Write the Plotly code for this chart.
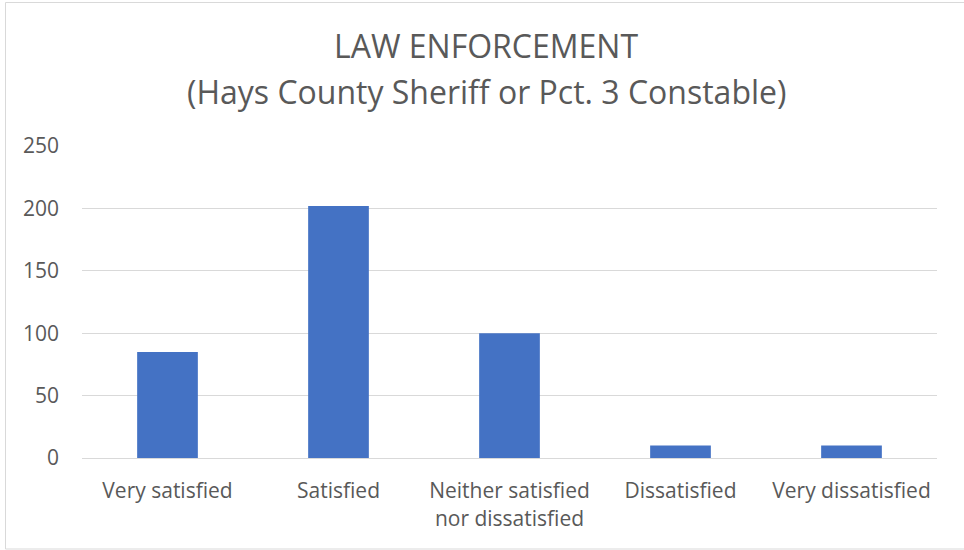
import plotly.graph_objects as go

categories = ["Very satisfied", "Satisfied", "Neither satisfied<br>nor dissatisfied", "Dissatisfied", "Very dissatisfied"]
counts = [85, 202, 100, 10, 10]
y_ticks = [0, 50, 100, 150, 200, 250]
title_lines = ["LAW ENFORCEMENT", "(Hays County Sheriff or Pct. 3 Constable)"]

W, H = 964, 550
L, R, T, B = 82, 27, 146, 92
pw, ph = W - L - R, H - T - B

def px_x(p):
    return (p - L) / pw

def px_y(p):
    return (H - B - p) / ph

FONT = "Open Sans"
GRAY = "#595959"

fig = go.Figure(go.Bar(
    x=categories, y=counts,
    marker=dict(color="#4472C4", line=dict(width=0)),
    width=0.355,
))

fig.update_layout(
    width=W, height=H,
    margin=dict(l=L, r=R, t=T, b=B),
    paper_bgcolor="white", plot_bgcolor="white",
    font=dict(family=FONT, color=GRAY),
    showlegend=False,
    xaxis=dict(
        showgrid=False, showline=True, linecolor="#D9D9D9", linewidth=1,
        ticks="", tickfont=dict(size=21, color=GRAY, family=FONT),
        ticklabelstandoff=14, fixedrange=True,
    ),
    yaxis=dict(
        range=[0, 250], tickvals=y_ticks, showgrid=True, gridcolor="#D9D9D9",
        gridwidth=1, zeroline=False, showline=False, ticks="",
        tickfont=dict(size=21, color=GRAY, family=FONT), ticklabelstandoff=22,
        fixedrange=True,
    ),
)

title_y = [45, 92]
for line, yp in zip(title_lines, title_y):
    fig.add_annotation(
        text=line, xref="paper", yref="paper", x=px_x(486), y=px_y(yp),
        xanchor="center", yanchor="middle", showarrow=False,
        font=dict(family=FONT, size=32, color=GRAY),
    )

fig.add_shape(
    type="rect", xref="paper", yref="paper",
    x0=px_x(5.5), x1=px_x(972), y0=px_y(549), y1=px_y(2.5),
    line=dict(color="#D9D9D9", width=1), fillcolor="rgba(0,0,0,0)", layer="below",
)

fig.write_html(
    "out.html",
    config={"displayModeBar": False},
    post_script="document.body.style.margin='0';document.body.style.overflow='hidden';",
)
